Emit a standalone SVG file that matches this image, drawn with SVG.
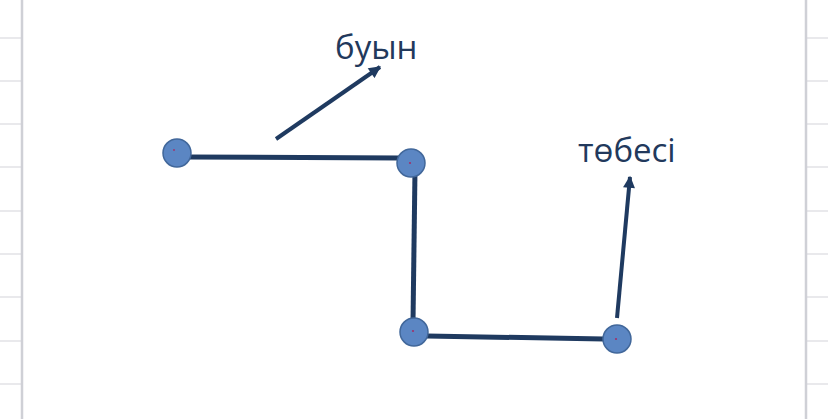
<svg xmlns="http://www.w3.org/2000/svg" width="828" height="419" viewBox="0 0 828 419">
<defs>
<style>
.grid{stroke:#e2e2e6;stroke-width:1.5}
.border{stroke:#cfd0d6;stroke-width:2.5}
.edge{stroke:#1f3a60;stroke-width:5;stroke-linecap:butt;fill:none}
.ptr{stroke:#1f3a60;stroke-width:4;fill:none}
.node{fill:#5b86c3;stroke:#41679a;stroke-width:1.5}
.dot{fill:#a0306a}
.lbl{font-family:"Open Sans","Liberation Sans",sans-serif;font-size:33px;fill:#22395c}
</style>
<marker id="ah" viewBox="0 0 10 10" refX="9" refY="5" markerWidth="3.2" markerHeight="3" orient="auto" markerUnits="strokeWidth">
<path d="M0,0 L10,5 L0,10 z" fill="#1f3a60"/>
</marker>
</defs>
<rect width="828" height="419" fill="#ffffff"/>
<g id="page-frame">
<g class="grid">
<line x1="0" y1="38" x2="22" y2="38"/><line x1="0" y1="81" x2="22" y2="81"/><line x1="0" y1="124" x2="22" y2="124"/><line x1="0" y1="167" x2="22" y2="167"/><line x1="0" y1="211" x2="22" y2="211"/><line x1="0" y1="254" x2="22" y2="254"/><line x1="0" y1="297" x2="22" y2="297"/><line x1="0" y1="341" x2="22" y2="341"/><line x1="0" y1="384" x2="22" y2="384"/>
<line x1="806" y1="38" x2="828" y2="38"/><line x1="806" y1="81" x2="828" y2="81"/><line x1="806" y1="124" x2="828" y2="124"/><line x1="806" y1="167" x2="828" y2="167"/><line x1="806" y1="211" x2="828" y2="211"/><line x1="806" y1="254" x2="828" y2="254"/><line x1="806" y1="297" x2="828" y2="297"/><line x1="806" y1="341" x2="828" y2="341"/><line x1="806" y1="384" x2="828" y2="384"/>
</g>
<line class="border" x1="22" y1="0" x2="22" y2="419"/>
<line class="border" x1="806" y1="0" x2="806" y2="419"/>
</g>
<g id="connectors">
<line class="edge" x1="188" y1="157" x2="400" y2="158"/>
<line class="edge" x1="415" y1="170" x2="413" y2="322"/>
<line class="edge" x1="427" y1="336" x2="604" y2="339"/>
<line class="ptr" x1="276" y1="139" x2="380" y2="67" marker-end="url(#ah)"/>
<line class="ptr" x1="617" y1="318" x2="630" y2="177" marker-end="url(#ah)"/>
</g>
<g id="node-1"><circle class="node" cx="177" cy="153" r="14"/><circle class="dot" cx="174" cy="150" r="0.9"/></g>
<g id="node-2"><circle class="node" cx="411" cy="163" r="14"/><circle class="dot" cx="410" cy="163" r="1.1"/></g>
<g id="node-3"><circle class="node" cx="414" cy="332" r="14"/><circle class="dot" cx="413" cy="331" r="1.1"/></g>
<g id="node-4"><circle class="node" cx="617" cy="339" r="14"/><circle class="dot" cx="616" cy="339" r="1.1"/></g>
<g id="label-buyn"><text class="lbl" x="335" y="59">буын</text></g>
<g id="label-tobesi"><text class="lbl" x="578" y="162">төбесі</text></g>
</svg>
